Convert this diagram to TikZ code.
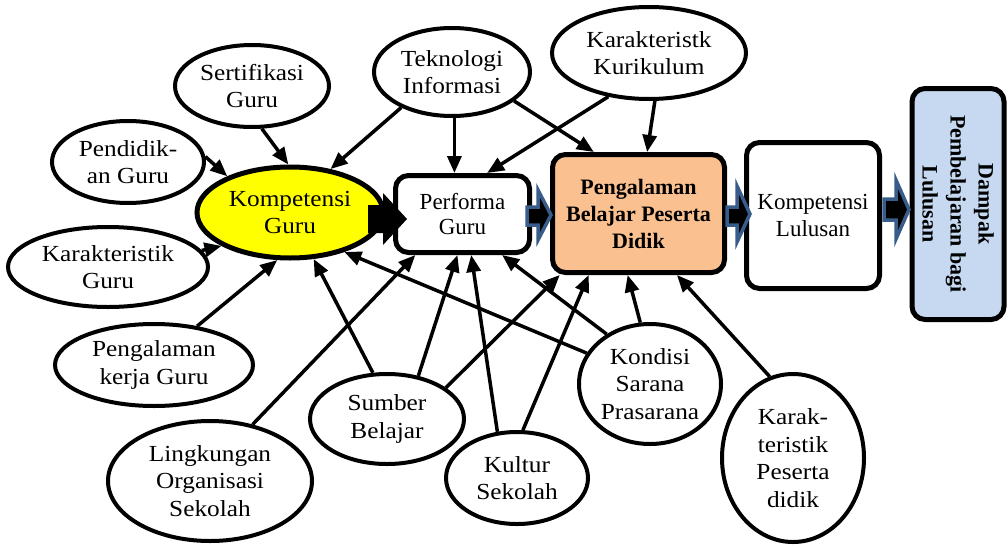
\documentclass[tikz,border=0pt]{standalone}
\usepackage{fontspec}
\usetikzlibrary{arrows.meta,shapes.geometric}
\newfontfamily\camb{Liberation Serif}[FakeStretch=1.1]
\newfontfamily\garfont{Liberation Serif}
\definecolor{kgyellow}{HTML}{FFFF00}
\definecolor{pengorange}{HTML}{FAC08F}
\definecolor{dampblue}{HTML}{C6D9F1}
\definecolor{arrowblue}{HTML}{385D8A}
\begin{document}
\begin{tikzpicture}[x=1pt,y=-1pt,
  oval/.style={ellipse, draw, line width=4pt, fill=white, inner sep=0pt,
    align=center, font=\camb\fontsize{23}{27.5}\selectfont},
  card/.style={rectangle, draw, line width=5pt, rounded corners=13pt, inner sep=0pt,
    align=center, font=\garfont\fontsize{23}{27}\selectfont},
  arr/.style={line width=3.5pt, -{Triangle[length=17pt,width=14pt]}},
  blockarrow/.style={fill=black, draw=arrowblue, line width=3.5pt, line join=miter}
]
\useasboundingbox (0,0) rectangle (1008,546);

% main chain of boxes
\node[oval, line width=5pt, fill=kgyellow, minimum width=186pt, minimum height=91pt] (kg) at (290,212.5) {Kompetensi\\Guru};
\node[card, fill=white, minimum width=134pt, minimum height=77pt, font=\garfont\fontsize{23}{25}\selectfont] (perf) at (462.5,214) {Performa\\Guru};
\node[card, fill=pengorange, minimum width=172pt, minimum height=118pt, font=\garfont\bfseries\fontsize{22}{27}\selectfont] (peng) at (638.5,213.5) {Pengalaman\\Belajar Peserta\\Didik};
\node[card, fill=white, minimum width=133pt, minimum height=146pt] (lul) at (813,215.5) {Kompetensi\\Lulusan};
\node[card, fill=dampblue, rotate=-90, minimum width=231pt, minimum height=92pt, font=\garfont\bfseries\fontsize{22}{28}\selectfont] (dam) at (958,204) {Dampak\\Pembelajaran bagi\\Lulusan};

% influencing factors
\node[oval, minimum width=154pt, minimum height=82pt] (sert) at (252,86) {Sertifikasi\\Guru};
\node[oval, minimum width=152pt, minimum height=82pt] (pend) at (128,162) {Pendidik-\\an Guru};
\node[oval, minimum width=156pt, minimum height=88pt] (tek) at (452,72) {Teknologi\\Informasi};
\node[oval, minimum width=194pt, minimum height=92pt] (kur) at (649,53) {Karakteristk\\Kurikulum};
\node[oval, minimum width=200pt, minimum height=80pt] (kar) at (108,267) {Karakteristik\\Guru};
\node[oval, minimum width=198pt, minimum height=82pt] (pk) at (154,365) {Pengalaman\\kerja Guru};
\node[oval, minimum width=204pt, minimum height=120pt] (ling) at (210,481) {Lingkungan\\Organisasi\\Sekolah};
\node[oval, minimum width=154pt, minimum height=90pt] (sum) at (387,419) {Sumber\\Belajar};
\node[oval, minimum width=142pt, minimum height=92pt] (kul) at (517,478) {Kultur\\Sekolah};
\node[oval, minimum width=142pt, minimum height=120pt] (kon) at (650,384) {Kondisi\\Sarana\\Prasarana};
\node[oval, minimum width=142pt, minimum height=168pt] (kps) at (793,458) {Karak-\\teristik\\Peserta\\didik};

% influence arrows
\draw[arr] (sert.-77) -- (kg.92);
\draw[arr] (pend.4) -- (kg.150);
\draw[arr] (tek.215) -- (kg.47);
\draw[arr] (tek.-87) -- (tek.-87 |- perf.north);
\draw[arr] (tek.-25) -- (peng.126);
\draw[arr] (kur.-133) -- (perf.59);
\draw[arr] (kur.-83) -- (peng.82);
\draw[arr] (kar.10) -- (kg.206);
\draw[arr] (pk.42) -- (kg.255);
\draw[arr] (ling.53) -- (perf.221);
\draw[arr] (sum.107) -- (kg.-63);
\draw[arr] (sum.54) -- (perf.263);
\draw[arr] (sum.28) -- (peng.218);
\draw[arr] (kul.113) -- (perf.-78);
\draw[arr] (kul.83) -- (peng.231);
\draw[arr] (kon.154) -- (kg.-36);
\draw[arr] (kon.131) -- (perf.-46);
\draw[arr] (kon.99) -- (peng.260);
\draw[arr] (kps.106) -- (peng.-58);

% block arrows along the chain
\fill (368,205) -- (383,205) -- (383,193) -- (407,219) -- (383,245) -- (383,233) -- (368,233) -- cycle;
\filldraw[blockarrow] (527,207) -- (538,207) -- (538,190) -- (551,215) -- (538,240) -- (538,225) -- (527,225) -- cycle;
\filldraw[blockarrow] (727,207) -- (737,207) -- (737,186) -- (750,214) -- (737,242) -- (737,225) -- (727,225) -- cycle;
\filldraw[blockarrow] (884,199) -- (896,199) -- (896,180) -- (909,209.5) -- (896,239) -- (896,220) -- (884,220) -- cycle;
\end{tikzpicture}
\end{document}
